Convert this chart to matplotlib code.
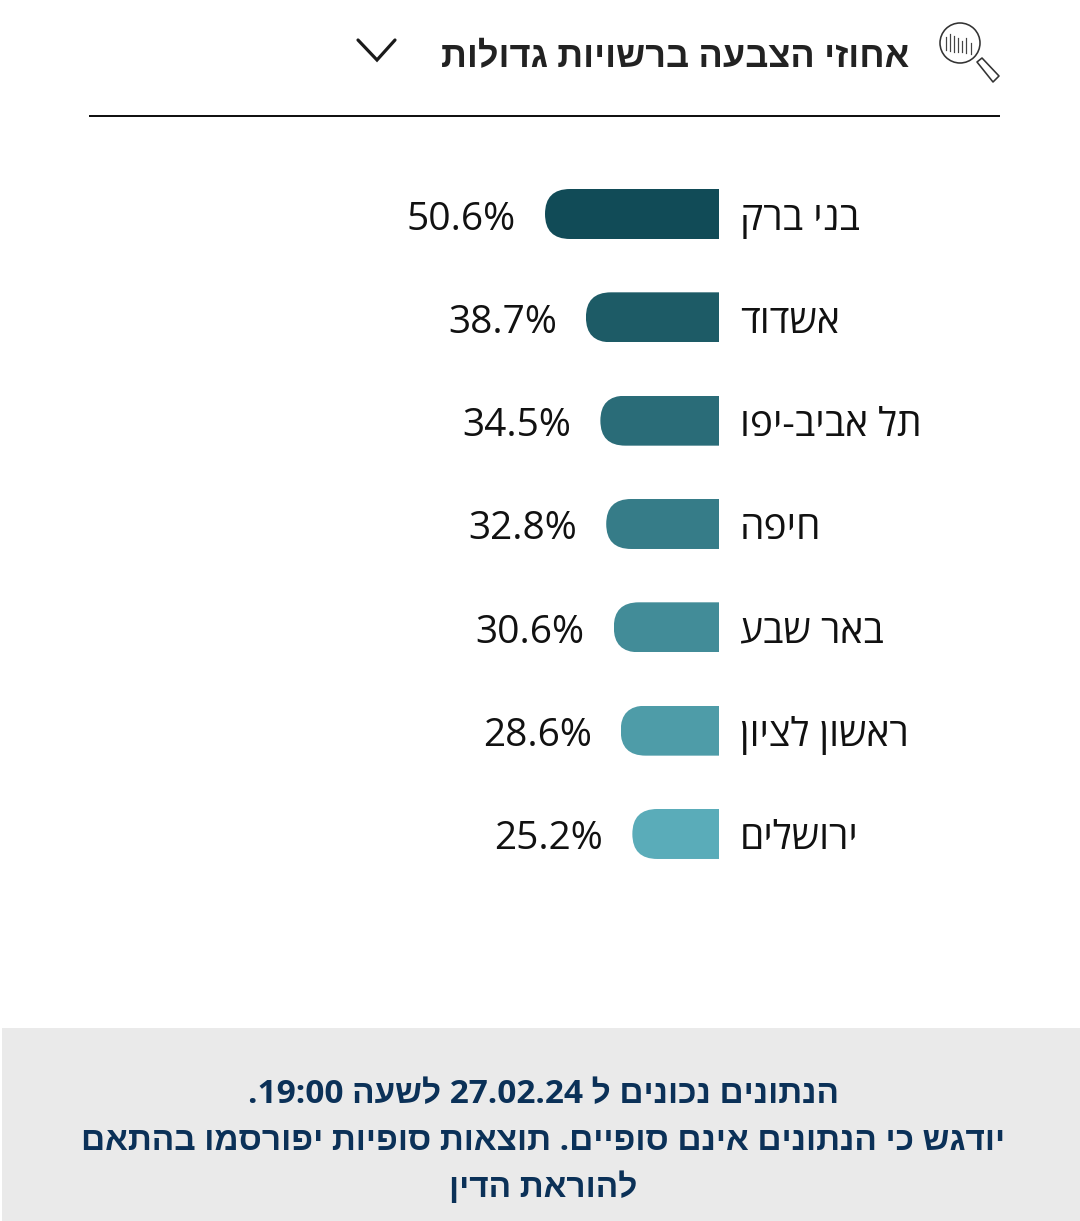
import re
import matplotlib
matplotlib.use('Agg')
import matplotlib.pyplot as plt
from matplotlib.patches import Rectangle, Circle, FancyBboxPatch, Polygon
from matplotlib.transforms import IdentityTransform

plt.rcParams['font.family'] = ['Open Sans', 'Liberation Sans', 'DejaVu Sans']

W, H = 1080, 1221
PX = 0.72  # one pixel in points at dpi 100

cities = ['בני ברק', 'אשדוד', 'תל אביב-יפו', 'חיפה', 'באר שבע', 'ראשון לציון', 'ירושלים']
turnout = [50.6, 38.7, 34.5, 32.8, 30.6, 28.6, 25.2]
bar_colors = ['#114b57', '#1d5b66', '#2a6c78', '#367c88', '#428c98', '#4e9ca8', '#5aacb9']

title = 'אחוזי הצבעה ברשויות גדולות'
footer_lines = ['הנתונים נכונים ל 27.02.24 לשעה 19:00.',
                'יודגש כי הנתונים אינם סופיים. תוצאות סופיות יפורסמו בהתאם',
                'להוראת הדין']
icon_ticks = [(946, 37, 50), (950, 34, 51), (954, 36, 52), (958, 38, 52), (962, 41, 52), (966, 38, 53), (971, 43, 54)]


def vis(text):
    # matplotlib has no bidi, so put the hebrew in visual order and keep numbers readable
    rev = text[::-1]
    return re.sub(r'\d[\d.:]*\d', lambda m: m.group(0)[::-1], rev)


fig = plt.figure(figsize=(W / 100, H / 100), dpi=100, facecolor='white')

# page layer in pixel coordinates
page = fig.add_axes([0, 0, 1, 1])
page.set_xlim(0, W)
page.set_ylim(H, 0)
page.axis('off')

page.plot([89, 1000], [116, 116], color='#111111', lw=2 * PX, solid_capstyle='butt')
page.plot([358, 377, 395], [40, 60, 40], color='#1a1a1a', lw=3.2 * PX, solid_capstyle='round', solid_joinstyle='miter')
page.text(909, 67, vis(title), ha='right', va='baseline', fontsize=26, fontweight='bold', color='#222222')

# magnifier icon
page.add_patch(Circle((960, 43), 20, fill=False, ec='#333333', lw=1.6 * PX))
for x, y0, y1 in icon_ticks:
    page.plot([x, x], [y0, y1], color='#444444', lw=1.2 * PX)
page.add_patch(Polygon([[977, 62], [982, 58], [999, 76], [993, 82]], closed=True, fill=False, ec='#333333', lw=1.6 * PX, joinstyle='round'))

# footer box
page.add_patch(Rectangle((2, 1028), W - 2, H - 1028, fc='#eaeaea', ec='none'))
for line, base in zip(footer_lines, [1103, 1150, 1197]):
    page.text(543, base, vis(line), ha='center', va='baseline', fontsize=24, fontweight='bold', color='#0b3158')

# bars, value axis runs right to left from x=719
px_per_unit = 174 / 50.6
spacing = 103.33
top = 214 - spacing / 2
ax = fig.add_axes([0, (H - (top + spacing * 7)) / H, 719 / W, spacing * 7 / H])
ax.set_xlim(719 / px_per_unit, 0)
ax.set_ylim(6.5, -0.5)
ax.axis('off')
ax.patch.set_alpha(0)

bars = ax.barh(range(len(turnout)), turnout, height=50 / spacing, color=bar_colors, linewidth=0)
fig.canvas.draw()
for bar in bars:
    # round the left end only: clip to a pill that runs past the axis line
    (x0, y0), (x1, y1) = ax.transData.transform([(bar.get_width(), bar.get_y() + bar.get_height()), (0, bar.get_y())])
    pill = FancyBboxPatch((x0, y0), x1 - x0 + 40, y1 - y0, boxstyle='round,pad=0,rounding_size=25', transform=IdentityTransform())
    bar.set_clip_path(pill)

for i, (city, v) in enumerate(zip(cities, turnout)):
    ax.annotate(f'{v}%', (v, i), xytext=(-29 * PX, -15.5 * PX), textcoords='offset points',
                ha='right', va='baseline', fontsize=28, color='#111111', annotation_clip=False)
    ax.annotate(vis(city), (0, i), xytext=(21 * PX, -15.5 * PX), textcoords='offset points',
                ha='left', va='baseline', fontsize=28, color='#111111', annotation_clip=False)

fig.savefig('out.png', dpi=100, facecolor='white')
